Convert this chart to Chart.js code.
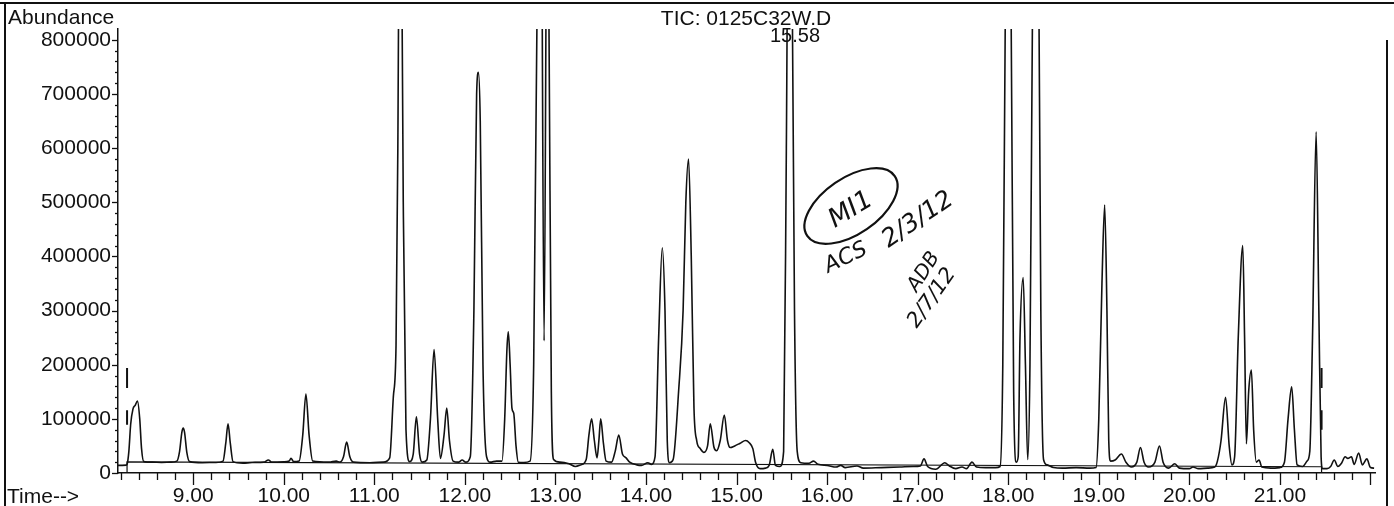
<!DOCTYPE html>
<html>
<head>
<meta charset="utf-8">
<title>TIC: 0125C32W.D</title>
<script src="https://cdn.jsdelivr.net/npm/chart.js@4.4.1/dist/chart.umd.min.js"></script>
<style>
  html, body { margin: 0; padding: 0; background: #fff; }
  #wrap { width: 1394px; height: 506px; position: relative; }
</style>
</head>
<body>
<div id="wrap"><canvas id="tic" width="1394" height="506"></canvas></div>
<script>
  // retention time (min) and abundance
  const signalTime = [
    8.17, 8.26, 8.27, 8.29, 8.31, 8.335, 8.36, 8.385, 8.41, 8.43, 8.455, 8.55, 8.65, 8.75,
    8.82, 8.85, 8.875, 8.89, 8.905, 8.93, 8.96, 9.1, 9.25, 9.33, 9.36, 9.385, 9.41, 9.44,
    9.55, 9.65, 9.78, 9.83, 9.87, 10.0, 10.06, 10.08, 10.11, 10.17, 10.21, 10.245, 10.28, 10.32,
    10.5, 10.58, 10.62, 10.66, 10.695, 10.73, 10.77, 10.95, 11.1, 11.17, 11.21, 11.24, 11.26,
    11.285, 11.32, 11.35, 11.39, 11.43, 11.465, 11.5, 11.53, 11.58, 11.62, 11.66, 11.7, 11.73,
    11.77, 11.8, 11.83, 11.87, 11.93, 11.97, 12.01, 12.06, 12.1, 12.13, 12.15, 12.17, 12.2,
    12.24, 12.28, 12.35, 12.41, 12.44, 12.465, 12.48, 12.5, 12.52, 12.54, 12.565, 12.59, 12.65,
    12.72, 12.76, 12.8, 12.84, 12.875, 12.91, 12.93, 12.955, 12.98, 13.05, 13.15, 13.22, 13.28,
    13.34, 13.37, 13.4, 13.43, 13.46, 13.48, 13.5, 13.53, 13.56, 13.62, 13.66, 13.7, 13.74,
    13.78, 13.82, 13.9, 13.95, 14.02, 14.06, 14.1, 14.14, 14.18, 14.21, 14.235, 14.26, 14.3,
    14.36, 14.41, 14.44, 14.47, 14.5, 14.53, 14.56, 14.6, 14.64, 14.68, 14.71, 14.75, 14.78,
    14.82, 14.865, 14.9, 14.93, 14.98, 15.04, 15.1, 15.14, 15.18, 15.21, 15.26, 15.32, 15.36,
    15.4, 15.43, 15.48, 15.52, 15.55, 15.58, 15.61, 15.64, 15.67, 15.71, 15.8, 15.85, 15.9,
    16.0, 16.1, 16.15, 16.2, 16.33, 16.4, 16.6, 16.8, 16.95, 17.03, 17.07, 17.11, 17.2, 17.3,
    17.35, 17.42, 17.49, 17.54, 17.6, 17.65, 17.75, 17.86, 17.91, 17.94, 17.97, 18.0, 18.03,
    18.06, 18.09, 18.11, 18.13, 18.165, 18.19, 18.215, 18.24, 18.27, 18.3, 18.33, 18.36, 18.39,
    18.43, 18.5, 18.6, 18.75, 18.9, 18.97, 19.0, 19.035, 19.065, 19.09, 19.11, 19.13, 19.18,
    19.25, 19.3, 19.36, 19.42, 19.46, 19.5, 19.55, 19.62, 19.67, 19.71, 19.77, 19.84, 19.89,
    20.0, 20.04, 20.1, 20.2, 20.28, 20.31, 20.35, 20.4, 20.44, 20.47, 20.5, 20.54, 20.59,
    20.61, 20.63, 20.655, 20.685, 20.71, 20.74, 20.77, 20.8, 20.9, 21.0, 21.05, 21.09, 21.13,
    21.16, 21.19, 21.25, 21.3, 21.33, 21.36, 21.4, 21.43, 21.455, 21.47, 21.52, 21.56, 21.6,
    21.64, 21.68, 21.72, 21.75, 21.79, 21.82, 21.87, 21.91, 21.96, 22.0, 22.04
  ];
  const signalAbundance = [
    14000, 14500, 16000, 40000, 90000, 118000, 125000, 133000, 100000, 45000, 21000, 20000, 19500, 20000,
    22000, 40000, 75000, 83000, 75000, 38000, 21000, 19000, 19500, 22000, 55000, 91000, 55000, 21000,
    18000, 19500, 20000, 24000, 20000, 20500, 22000, 27000, 21000, 22000, 70000, 146000, 70000, 22000,
    20000, 22000, 20000, 30000, 57000, 30000, 20000, 19000, 20000, 28000, 140000, 235000, 600000,
    1300000, 500000, 80000, 21000, 35000, 104000, 35000, 20000, 24000, 100000, 228000, 100000, 27000,
    70000, 120000, 60000, 22000, 20000, 24000, 20000, 30000, 300000, 700000, 740000, 650000, 200000,
    30000, 20000, 22000, 22000, 100000, 230000, 261000, 200000, 120000, 110000, 50000, 20000, 19500,
    22000, 200000, 900000, 1200000, 244000, 1200000, 800000, 150000, 25000, 20000, 17000, 12000, 15000,
    25000, 70000, 100000, 60000, 28000, 60000, 100000, 55000, 22000, 20000, 40000, 70000, 35000,
    28000, 20000, 15000, 14000, 19000, 16000, 30000, 250000, 416000, 300000, 60000, 19000, 25000,
    150000, 300000, 500000, 580000, 400000, 120000, 60000, 45000, 38000, 50000, 91000, 48000, 41000,
    60000, 107000, 60000, 47000, 50000, 55000, 60000, 56000, 45000, 20000, 8000, 9000, 14000,
    44000, 14000, 12000, 40000, 600000, 1300000, 1000000, 300000, 40000, 19000, 18000, 22000, 16000,
    14000, 11000, 14000, 10000, 13000, 9000, 10000, 11000, 12000, 13000, 26000, 12000, 7000, 19000,
    13000, 8000, 11000, 8000, 20000, 11000, 10000, 10000, 12000, 200000, 900000, 1300000, 900000,
    150000, 20000, 30000, 250000, 361000, 200000, 25000, 200000, 900000, 1300000, 1100000, 300000, 25000,
    15000, 10000, 9000, 10000, 9000, 10000, 100000, 350000, 495000, 300000, 60000, 22000, 24000,
    35000, 20000, 11000, 20000, 47000, 20000, 11000, 20000, 50000, 20000, 9000, 17000, 9000,
    8000, 11000, 8000, 9000, 11000, 22000, 60000, 140000, 50000, 15000, 30000, 250000, 420000,
    250000, 54000, 150000, 190000, 80000, 20000, 24000, 11000, 9000, 10000, 20000, 100000, 159000,
    80000, 15000, 12000, 22000, 40000, 250000, 630000, 300000, 30000, 8000, 8000, 12000, 24000,
    12000, 18000, 30000, 27000, 30000, 16000, 37000, 15000, 26000, 10000, 9000
  ];

  // integration baseline, with drops to the axis at both ends
  const baselineTime = [8.27, 8.27, 21.46, 21.46];
  const baselineAbundance = [0, 20500, 11500, 0];

  // start / end event marks (two short strokes each), null = gap
  const markTime = [8.27, 8.27, null, 8.27, 8.27, null, 21.46, 21.46, null, 21.46, 21.46];
  const markAbundance = [194000, 157000, null, 116000, 89000, null, 194000, 157000, null, 116000, 80000];

  const xTickLabels = [9, 10, 11, 12, 13, 14, 15, 16, 17, 18, 19, 20, 21];
  const yTickLabels = [0, 100000, 200000, 300000, 400000, 500000, 600000, 700000, 800000];

  const ink = '#111';
  const font = '"Liberation Sans", Arial, sans-serif';

  function pairs(xs, ys) {
    return xs.map((t, i) => (t === null ? { x: NaN, y: null } : { x: t, y: ys[i] }));
  }

  const decor = {
    id: 'decor',
    afterDraw(chart) {
      const { ctx, scales: { x, y }, chartArea: a } = chart;
      ctx.save();
      ctx.strokeStyle = ink;
      ctx.fillStyle = ink;

      // x minor/major ticks every 0.2 min
      ctx.lineWidth = 1.3;
      for (let i = 41; i <= 110; i++) {
        const px = Math.round(x.getPixelForValue(i / 5)) + 0.5;
        const len = i % 5 === 0 ? 12 : 7;
        ctx.beginPath();
        ctx.moveTo(px, a.bottom);
        ctx.lineTo(px, a.bottom + len);
        ctx.stroke();
      }
      // y ticks every 20000
      for (let i = 0; i <= 40; i++) {
        const py = Math.round(y.getPixelForValue(i * 20000)) + 0.5;
        const len = i % 5 === 0 ? 6 : 3;
        ctx.beginPath();
        ctx.moveTo(a.left, py);
        ctx.lineTo(a.left - len, py);
        ctx.stroke();
      }

      // texts
      ctx.font = '21px ' + font;
      ctx.textBaseline = 'alphabetic';
      ctx.textAlign = 'left';
      ctx.fillText('Abundance', 8, 24);
      ctx.fillText('Time-->', 7, 503);
      ctx.textAlign = 'center';
      ctx.fillText('TIC: 0125C32W.D', 746, 25);
      ctx.font = '20px ' + font;
      ctx.textAlign = 'left';
      ctx.fillText('15.58', 770, 42);

      // page frame from the scan
      ctx.lineWidth = 2;
      ctx.beginPath();
      ctx.moveTo(0, 3); ctx.lineTo(1394, 3);
      ctx.moveTo(5, 3); ctx.lineTo(5, 506);
      ctx.moveTo(1387, 40); ctx.lineTo(1387, 506);
      ctx.stroke();

      // handwritten notes
      ctx.lineWidth = 2.2;
      ctx.beginPath();
      ctx.ellipse(851, 206, 53, 28, -0.6, 0, Math.PI * 2);
      ctx.stroke();
      const note = (txt, cx, cy, ang, size) => {
        ctx.save();
        ctx.translate(cx, cy);
        ctx.rotate(ang);
        ctx.font = 'italic ' + size + 'px "DejaVu Sans", sans-serif';
        ctx.textAlign = 'center';
        ctx.textBaseline = 'middle';
        ctx.fillText(txt, 0, 0);
        ctx.restore();
      };
      note('MI1', 851, 210, -0.55, 26);
      note('2/3/12', 918, 220, -0.6, 25);
      note('ACS', 846, 258, -0.45, 22);
      note('ADB', 924, 272, -1.0, 20);
      note('2/7/12', 932, 298, -0.95, 21);

      ctx.restore();
    }
  };

  const config = {
    type: 'line',
    data: {
      datasets: [
        {
          data: pairs(signalTime, signalAbundance),
          borderColor: ink,
          borderWidth: 1.6,
          pointRadius: 0,
          cubicInterpolationMode: 'monotone'
        },
        {
          data: pairs(baselineTime, baselineAbundance),
          borderColor: ink,
          borderWidth: 1.2,
          pointRadius: 0,
          tension: 0
        },
        {
          data: pairs(markTime, markAbundance),
          borderColor: ink,
          borderWidth: 2,
          pointRadius: 0,
          spanGaps: false
        }
      ]
    },
    options: {
      responsive: false,
      animation: false,
      devicePixelRatio: 1,
      layout: { padding: { left: 0, right: 19, top: 29, bottom: 0 } },
      plugins: { legend: { display: false }, tooltip: { enabled: false } },
      scales: {
        x: {
          type: 'linear',
          min: 8.17,
          max: 22.05,
          afterBuildTicks: s => { s.ticks = xTickLabels.map(v => ({ value: v })); },
          afterFit: s => { s.height = 33; },
          grid: { display: true, drawOnChartArea: false, drawTicks: true, tickLength: 8, color: 'rgba(0,0,0,0)' },
          border: { display: true, color: ink, width: 1.5 },
          ticks: {
            color: ink,
            font: { family: font, size: 21 },
            padding: 3,
            maxRotation: 0,
            autoSkip: false,
            callback: v => Number(v).toFixed(2)
          }
        },
        y: {
          type: 'linear',
          min: 0,
          max: 820000,
          afterBuildTicks: s => { s.ticks = yTickLabels.map(v => ({ value: v })); },
          afterFit: s => { s.width = 118; },
          grid: { display: true, drawOnChartArea: false, drawTicks: true, tickLength: 6, color: 'rgba(0,0,0,0)' },
          border: { display: true, color: ink, width: 1.5 },
          ticks: {
            color: ink,
            font: { family: font, size: 21 },
            padding: 1,
            autoSkip: false,
            callback: v => String(v)
          }
        }
      }
    },
    plugins: [decor]
  };

  window.onload = function() {
    const ctx = document.getElementById('tic').getContext('2d');
    new Chart(ctx, config);
  };
</script>
</body>
</html>
